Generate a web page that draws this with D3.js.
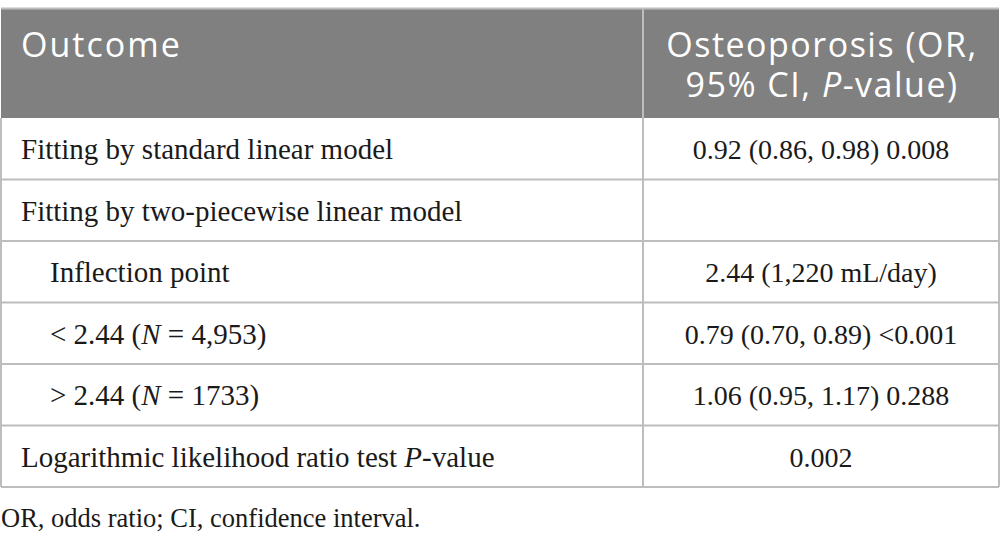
<!DOCTYPE html>
<html>
<head>
<meta charset="utf-8">
<script src="https://cdn.jsdelivr.net/npm/d3@7"></script>
<style>
  body { margin: 0; background: #fff; }
</style>
</head>
<body>
<div id="chart"></div>
<script>
// Table content (italic parts wrapped in *...*)
const headers = ["Outcome", ["Osteoporosis (OR,", "95% CI, *P*-value)"]];
const outcomes = [
    "Fitting by standard linear model",
    "Fitting by two-piecewise linear model",
    "Inflection point",
    "< 2.44 (*N* = 4,953)",
    "> 2.44 (*N* = 1733)",
    "Logarithmic likelihood ratio test *P*-value"
];
const indented = [false, false, true, true, true, false];
const results = [
    "0.92 (0.86, 0.98) 0.008",
    "",
    "2.44 (1,220 mL/day)",
    "0.79 (0.70, 0.89) <0.001",
    "1.06 (0.95, 1.17) 0.288",
    "0.002"
];
const footnote = "OR, odds ratio; CI, confidence interval.";

const W = 1001, H = 543;
const tableLeft = 1, tableRight = 999, colSplit = 643;
const headTop = 9, headBottom = 118, tableBottom = 487;
const lineColor = "#bdbdbd";
const serif = "'Liberation Serif', 'Times New Roman', serif";
const sans = "'Open Sans', Lato, sans-serif";

const svg = d3.select("#chart").append("svg")
    .attr("width", W)
    .attr("height", H);

// split "a *b* c" into segments with italic flags
function segments(str) {
    return str.split("*").map((t, i) => ({ text: t, italic: i % 2 === 1 })).filter(s => s.text.length);
}

function richText(sel, str) {
    sel.selectAll("tspan")
        .data(segments(str))
        .enter()
        .append("tspan")
        .style("font-style", d => d.italic ? "italic" : "normal")
        .text(d => d.text);
}

// rows scale
const y = d3.scaleBand()
    .domain(d3.range(outcomes.length))
    .range([headBottom, tableBottom]);

// header background
svg.append("rect")
    .attr("x", tableLeft)
    .attr("y", headTop)
    .attr("width", tableRight - tableLeft)
    .attr("height", headBottom - headTop)
    .attr("fill", "#808080");

// top border
svg.append("line")
    .attr("x1", tableLeft).attr("x2", tableRight)
    .attr("y1", headTop - 0.5).attr("y2", headTop - 0.5)
    .attr("stroke", lineColor).attr("stroke-width", 2);

// header text
svg.append("text")
    .attr("x", 21)
    .attr("y", 57)
    .attr("fill", "#fff")
    .style("font-family", sans)
    .style("font-size", "34px")
    .style("letter-spacing", "2px")
    .text(headers[0]);

headers[1].forEach((line, i) => {
    svg.append("text")
        .attr("x", (colSplit + tableRight) / 2 + 1)
        .attr("y", 57 + i * 40)
        .attr("text-anchor", "middle")
        .attr("fill", "#fff")
        .style("font-family", sans)
        .style("font-size", "34px")
        .style("letter-spacing", "1.5px")
        .call(richText, line);
});

// horizontal row lines
svg.selectAll("line.row")
    .data(d3.range(outcomes.length))
    .enter()
    .append("line")
    .attr("class", "row")
    .attr("x1", tableLeft).attr("x2", tableRight)
    .attr("y1", d => y(d) + y.bandwidth())
    .attr("y2", d => y(d) + y.bandwidth())
    .attr("stroke", lineColor)
    .attr("stroke-width", 2);

// vertical lines
[tableLeft, colSplit, tableRight].forEach(x => {
    svg.append("line")
        .attr("x1", x).attr("x2", x)
        .attr("y1", x === colSplit ? headTop : headBottom)
        .attr("y2", tableBottom)
        .attr("stroke", lineColor)
        .attr("stroke-width", 2);
});

// outcome labels
svg.selectAll("text.outcome")
    .data(outcomes)
    .enter()
    .append("text")
    .attr("class", "outcome")
    .attr("x", (d, i) => indented[i] ? 50 : 21)
    .attr("y", (d, i) => y(i) + 41)
    .attr("fill", "#1a1a1a")
    .style("font-family", serif)
    .style("font-size", "29px")
    .each(function(d) { d3.select(this).call(richText, d); });

// result values
svg.selectAll("text.result")
    .data(results)
    .enter()
    .append("text")
    .attr("class", "result")
    .attr("x", (colSplit + tableRight) / 2)
    .attr("y", (d, i) => y(i) + 41)
    .attr("text-anchor", "middle")
    .attr("fill", "#1a1a1a")
    .style("font-family", serif)
    .style("font-size", "28px")
    .text(d => d);

// footnote
svg.append("text")
    .attr("x", 1)
    .attr("y", 527)
    .attr("fill", "#1a1a1a")
    .style("font-family", serif)
    .style("font-size", "26.5px")
    .text(footnote);
</script>
</body>
</html>
